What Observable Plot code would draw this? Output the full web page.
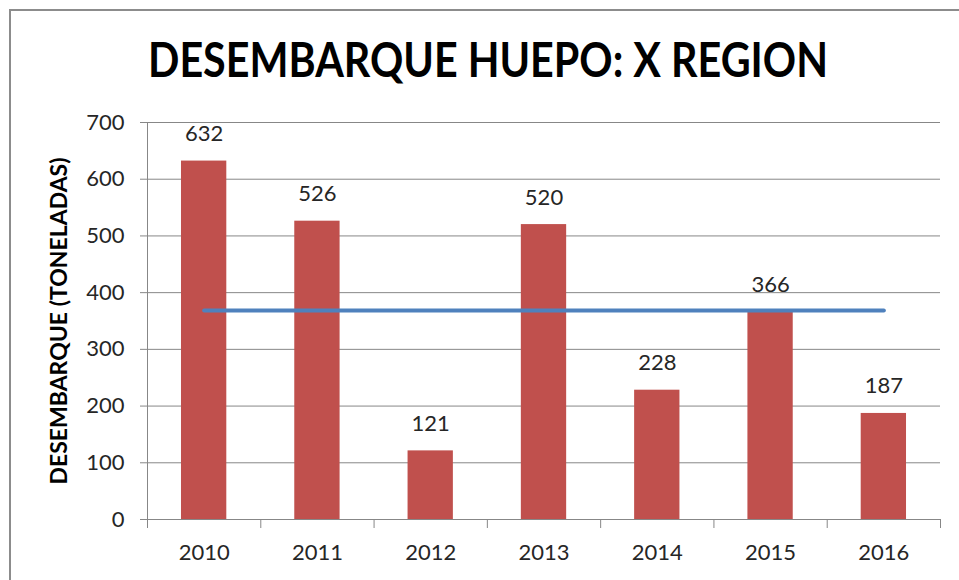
<!DOCTYPE html>
<html>
<head>
<meta charset="utf-8">
<script src="https://cdn.jsdelivr.net/npm/d3@7"></script>
<script src="https://cdn.jsdelivr.net/npm/@observablehq/plot@0.6"></script>
<style>
  html, body { margin: 0; padding: 0; background: #fff; }
  #wrap { position: relative; width: 959px; height: 580px; overflow: hidden; background: #fff; }
  #frame { position: absolute; left: 9px; top: 9px; width: 1000px; height: 1000px; border-left: 2px solid #8c8c8c; border-top: 2px solid #8c8c8c; box-sizing: border-box; }
  #title { position: absolute; left: 0; top: 0; }
  #chart { position: absolute; left: 0; top: 100px; }
</style>
</head>
<body>
<div id="wrap">
  <div id="frame"></div>
  <svg id="title" width="959" height="100"></svg>
  <div id="chart"></div>
</div>
<script>
const titulo = "DESEMBARQUE HUEPO: X REGION";
const ejeY = "DESEMBARQUE (TONELADAS)";
const years = [2010, 2011, 2012, 2013, 2014, 2015, 2016];
const desembarque = [632, 526, 121, 520, 228, 366, 187];
const promedio = [368.6, 368.6, 368.6, 368.6, 368.6, 368.6, 368.6];
const yTicks = [0, 100, 200, 300, 400, 500, 600, 700];

const data = years.map((y, i) => ({year: y, value: desembarque[i], avg: promedio[i]}));
const boundaries = [...years.map(y => y - 0.5), years[years.length - 1] + 0.5];

// Title
d3.select("#title").append("text")
  .attr("x", 488).attr("y", 77)
  .attr("text-anchor", "middle")
  .attr("font-family", "Lato, 'Open Sans', sans-serif")
  .attr("font-weight", "bold")
  .attr("font-size", 47)
  .attr("fill", "#000")
  .attr("textLength", 680)
  .attr("lengthAdjust", "spacingAndGlyphs")
  .text(titulo);

const grid = "#878787";
const chart = Plot.plot({
  width: 959,
  height: 480,
  marginTop: 22,
  marginBottom: 61,
  marginLeft: 147,
  marginRight: 19,
  x: {domain: [boundaries[0], boundaries[boundaries.length - 1]]},
  y: {domain: [0, 700]},
  style: {fontFamily: "Lato, 'Open Sans', sans-serif", fontSize: "22px", color: "#262626", background: "transparent"},
  marks: [
    Plot.gridY(yTicks, {stroke: grid, strokeOpacity: 1}),
    Plot.axisY({ticks: yTicks, tickSize: 7, tickPadding: 16, stroke: grid, label: null}),
    Plot.axisY({ticks: [], label: ejeY, labelAnchor: "center", labelArrow: "none", labelOffset: 97, fontWeight: "bold", fontSize: 23, fill: "#000"}),
    Plot.frame({anchor: "left", stroke: grid}),
    Plot.rectY(data, {x1: d => d.year - 0.2, x2: d => d.year + 0.2, y: "value", fill: "#C0504D"}),
    Plot.lineY(data, {x: "year", y: "avg", stroke: "#4F81BD", strokeWidth: 4, strokeLinecap: "round"}),
    Plot.text(data, {x: "year", y: "value", text: d => String(d.value), dy: -27, fill: "#262626"}),
    Plot.axisX({ticks: boundaries, tickSize: 9, tickFormat: () => "", stroke: grid, label: null}),
    Plot.frame({anchor: "bottom", stroke: grid}),
    Plot.axisX({ticks: years, tickSize: 0, tickPadding: 25, tickFormat: d => String(d), label: null})
  ]
});
document.getElementById("chart").appendChild(chart);
</script>
</body>
</html>
